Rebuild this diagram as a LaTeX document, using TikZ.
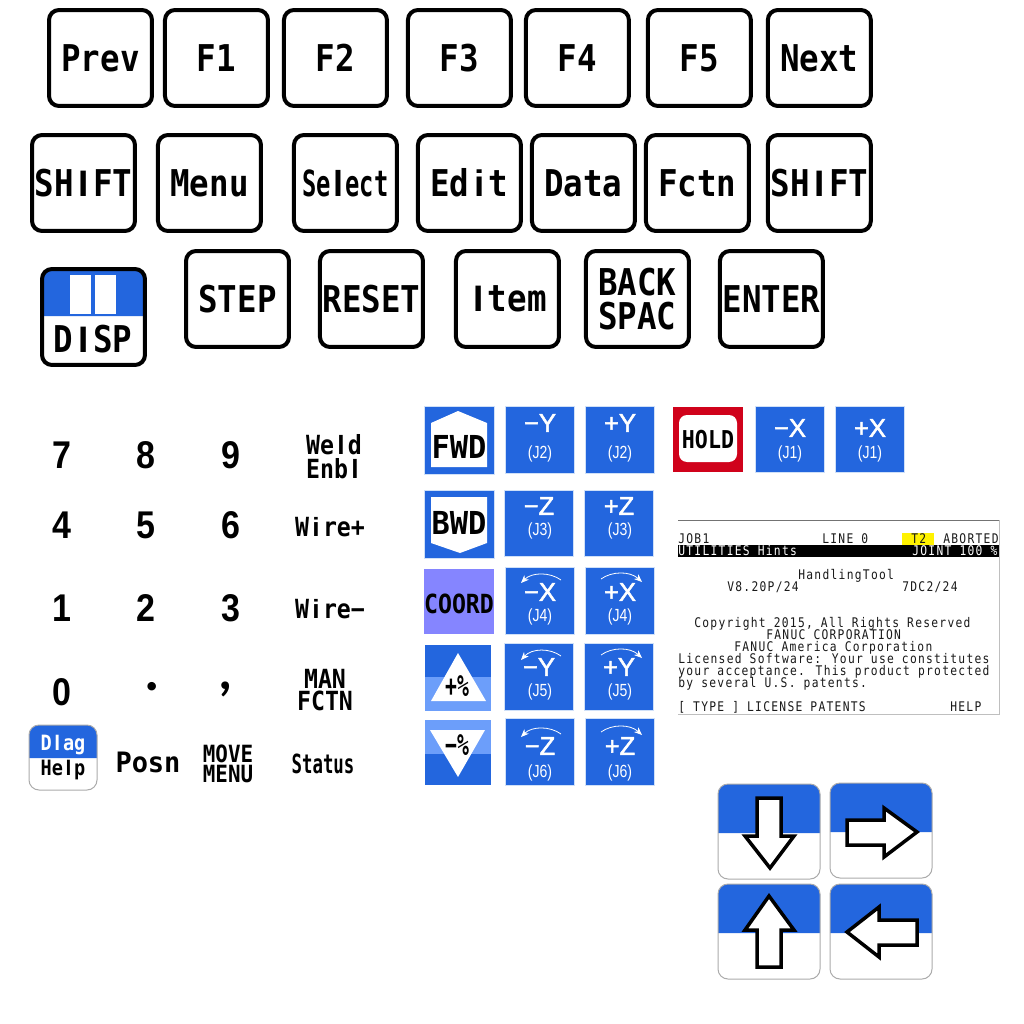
\documentclass[tikz,border=0pt]{standalone}
\usepackage{fontspec}
\usepackage{tikz}
\usetikzlibrary{arrows.meta,positioning}
\newfontfamily\keyfont[FakeStretch=.88]{DejaVu Sans Mono}
\newfontfamily\slimfont[FakeStretch=.66]{DejaVu Sans Mono}
\newfontfamily\wideface[FakeStretch=.96]{DejaVu Sans Mono}
\newfontfamily\digitfont[FakeStretch=.88]{Liberation Sans}
\newfontfamily\dotfont{Lato}
\newfontfamily\barfont{Liberation Sans}
\newfontfamily\jogfont[FakeBold=2]{Liberation Sans}
\newfontfamily\jointfont[FakeStretch=.8]{Liberation Sans}
\newfontfamily\screenfont[FakeStretch=.85,LetterSpace=9.6]{DejaVu Sans Mono}
\newcommand{\barglyph}[1]{\makebox[.53em]{\barfont\bfseries #1}}
\newcommand{\slimbar}[1]{\makebox[.4em]{\barfont\bfseries #1}}
\definecolor{keyblue}{HTML}{2366DE}
\definecolor{lightblue}{HTML}{6C9EFA}
\definecolor{paleblue}{HTML}{CFE0F8}
\definecolor{coordblue}{HTML}{8585FF}
\definecolor{holdred}{HTML}{D0021B}
\definecolor{edgegray}{HTML}{ABABAB}

\begin{document}
\begin{tikzpicture}[x=.02cm, y=-.02cm,
      node distance=.3cm,
      keycap/.style={draw=black, line width=.08cm, rounded corners=.2cm, fill=white,
        minimum width=2.06cm, minimum height=1.92cm, inner sep=0pt, align=center,
        font=\keyfont\bfseries\fontsize{21}{19.3}\selectfont},
      numkey/.style={inner sep=0pt, font=\digitfont\bfseries\fontsize{22}{23}\selectfont},
      smallkey/.style={inner sep=0pt, align=center,
        font=\keyfont\bfseries\fontsize{15}{13.6}\selectfont},
      halfkey/.style={draw=edgegray, line width=.02cm, rounded corners=.2cm},
      jogkey/.style={draw=paleblue, line width=.02cm, fill=keyblue,
        minimum width=1.38cm, minimum height=1.34cm, inner sep=0pt},
      jogsign/.style={inner sep=0pt, text=white, font=\jogfont\fontsize{14.5}{15}\selectfont},
      joglabel/.style={inner sep=0pt, text=white, font=\jointfont\fontsize{10}{11}\selectfont},
      tagtext/.style={inner sep=0pt, font=\wideface\bfseries\fontsize{18}{19}\selectfont},
      screentext/.style={inner sep=0pt, anchor=base west, text=black!90,
        font=\screenfont\fontsize{7.56}{8}\selectfont},
      turn/.style={draw=white, line width=.016cm, -{Stealth[length=1.6mm, width=1.3mm]}},
      keyarrow/.style={draw=black, line width=.07cm, fill=white, miter limit=10}
    ]
      \useasboundingbox (0,0) rectangle (1024,1024);
      \fill[white] (0,0) rectangle (1024,1024);

      \node[keycap] at (100.5,58) (prev) {Prev};
      \node[keycap, right=.18cm of prev] (fone) {F1};
      \node[keycap, right=.24cm of fone] (ftwo) {F2};
      \node[keycap, right=.34cm of ftwo] (fthree) {F3};
      \node[keycap, right=.22cm of fthree] (ffour) {F4};
      \node[keycap, right=.30cm of ffour] (ffive) {F5};
      \node[keycap, right=.26cm of ffive] (next) {Next};

      \node[keycap] at (83.5,183) (shl) {SH\barglyph{I}FT};
      \node[keycap, right=.38cm of shl] (menu) {Menu};
      \node[keycap, right=.58cm of menu, font=\slimfont\bfseries\fontsize{20.5}{21}\selectfont] (sel) {Se\slimbar{l}ect};
      \node[keycap, right=.34cm of sel] (edit) {Ed\barglyph{i}t};
      \node[keycap, right=.14cm of edit] (data) {Data};
      \node[keycap, right=.14cm of data] (fctn) {Fctn};
      \node[keycap, right=.30cm of fctn] (shr) {SH\barglyph{I}FT};

      \node[keycap] at (237.5,299) (stepkey) {STEP};
      \node[keycap, right=.54cm of stepkey] (reset) {RESET};
      \node[keycap, right=.58cm of reset] (item) {\barglyph{I}tem};
      \node[keycap, right=.46cm of item] (back) {BACK\\SPAC};
      \node[keycap, right=.54cm of back] (enter) {ENTER};

      \fill[keyblue] (41,316) [rounded corners=.2cm] -- (41,268) -- (145,268) [sharp corners] -- (145,316) -- cycle;
      \fill[white] (70,275) rectangle (91,314);
      \fill[white] (95,275) rectangle (116,314);
      \node[keycap, fill=none] at (93.5,317) (disp) {};
      \node[inner sep=0pt, font=\keyfont\bfseries\fontsize{21}{22}\selectfont] at (93,339) (disptext) {D\barglyph{I}SP};

      \node[numkey] at (62,455) (nseven) {7};
      \node[numkey] at (146,455) (neight) {8};
      \node[numkey] at (231,455) (nnine) {9};
      \node[smallkey] at (334,457) (weld) {We\barglyph{l}d\\Enb\barglyph{l}};
      \node[numkey] at (62,525) (nfour) {4};
      \node[numkey] at (146,525) (nfive) {5};
      \node[numkey] at (231,525) (nsix) {6};
      \node[smallkey] at (330,527) (wirep) {W\barglyph{i}re+};
      \node[numkey] at (62,608) (none) {1};
      \node[numkey] at (146,608) (ntwo) {2};
      \node[numkey] at (231,608) (nthree) {3};
      \node[smallkey] at (330,609) (wirem) {W\barglyph{i}re−};
      \node[numkey] at (62,692) (nzero) {0};
      \node[numkey, font=\dotfont\bfseries\fontsize{32}{33}\selectfont] at (152,687) (ndot) {.};
      \node[numkey, font=\dotfont\bfseries\fontsize{30}{31}\selectfont] at (226,689) (ncomma) {,};
      \node[smallkey, font=\keyfont\bfseries\fontsize{15}{12.5}\selectfont] at (325,690) (manf) {MAN\\FCTN};

      \fill[keyblue] (29,758) [rounded corners=.2cm] -- (29,725) -- (97,725) [sharp corners] -- (97,758) -- cycle;
      \draw[halfkey] (29,725) rectangle (97,790);
      \node[smallkey, text=white, font=\keyfont\bfseries\fontsize{12}{13}\selectfont] at (63,745) (dlag) {D\barglyph{l}ag};
      \node[smallkey, font=\keyfont\bfseries\fontsize{12}{13}\selectfont] at (63,770) (helpkey) {He\barglyph{l}p};
      \node[smallkey, font=\wideface\bfseries\fontsize{16}{17}\selectfont] at (148,762) (posn) {Posn};
      \node[smallkey, font=\keyfont\bfseries\fontsize{13.5}{11.4}\selectfont] at (228,764) (movem) {MOVE\\MENU};
      \node[smallkey, font=\slimfont\bfseries\fontsize{15}{16}\selectfont] at (323,764) (status) {Status};

      \fill[keyblue, draw=paleblue, line width=.02cm] (424,406) rectangle (494,474);
      \fill[white] (431,467) -- (431,423) -- (458,411) -- (487,423) -- (487,467) -- cycle;
      \node[tagtext] at (459,447) (fwd) {FWD};
      \fill[keyblue, draw=paleblue, line width=.02cm] (424,490) rectangle (494,558);
      \fill[white] (431,497) -- (487,497) -- (487,543) -- (460,553) -- (431,543) -- cycle;
      \node[tagtext] at (459,523) (bwd) {BWD};
      \node[fill=coordblue, minimum width=1.40cm, minimum height=1.30cm, inner sep=0pt] at (459,601.5) (coordbox) {};
      \node[tagtext, font=\keyfont\bfseries\fontsize{15}{16}\selectfont] at (459,604) (coord) {COORD};

      \fill[keyblue] (425,645) rectangle (491,677);
      \fill[lightblue] (425,677) rectangle (491,711);
      \fill[white] (458,653) -- (486,701) -- (431,701) -- cycle;
      \node[tagtext, font=\slimfont\bfseries\fontsize{17}{18}\selectfont] at (457,686) (pluspc) {+\%};
      \fill[lightblue] (425,720) rectangle (491,754);
      \fill[keyblue] (425,754) rectangle (491,785);
      \fill[white] (430,730) -- (485,730) -- (458,777) -- cycle;
      \node[tagtext, font=\slimfont\bfseries\fontsize{17}{18}\selectfont] at (457,745) (minuspc) {−\%};

      \node[jogkey] at (540,440) (mytwo) {};
      \node[jogsign] at (540,423) (mytwos) {−Y};
      \node[joglabel] at (540,454) (mytwol) {(J2)};
      \node[jogkey] at (620,440) (pytwo) {};
      \node[jogsign] at (620,423) (pytwos) {+Y};
      \node[joglabel] at (620,454) (pytwol) {(J2)};
      \node[jogkey] at (539,523.5) (mzthree) {};
      \node[jogsign] at (539,506) (mzthrees) {−Z};
      \node[joglabel] at (540,531) (mzthreel) {(J3)};
      \node[jogkey] at (619,523.5) (pzthree) {};
      \node[jogsign] at (619,506) (pzthrees) {+Z};
      \node[joglabel] at (620,531) (pzthreel) {(J3)};
      \node[jogkey] at (540,601) (mxfour) {};
      \node[jogsign] at (540,592) (mxfours) {−X};
      \node[joglabel] at (540,617) (mxfourl) {(J4)};
      \draw[turn] (561,580) .. controls (550,572) and (532,572) .. (521,583);
      \node[jogkey] at (620,601) (pxfour) {};
      \node[jogsign] at (620,592) (pxfours) {+X};
      \node[joglabel] at (620,617) (pxfourl) {(J4)};
      \draw[turn] (601,579) .. controls (612,571) and (630,571) .. (642,582);
      \node[jogkey] at (539,677) (myfive) {};
      \node[jogsign] at (539,667) (myfives) {−Y};
      \node[joglabel] at (540,692) (myfivel) {(J5)};
      \draw[turn] (561,656) .. controls (550,648) and (532,648) .. (521,660);
      \node[jogkey] at (619,677) (pyfive) {};
      \node[jogsign] at (619,667) (pyfives) {+Y};
      \node[joglabel] at (620,692) (pyfivel) {(J5)};
      \draw[turn] (601,655) .. controls (612,647) and (630,647) .. (642,658);
      \node[jogkey] at (540,752) (mzsix) {};
      \node[jogsign] at (540,746) (mzsixs) {−Z};
      \node[joglabel] at (540,773) (mzsixl) {(J6)};
      \draw[turn] (561,734) .. controls (550,726) and (532,726) .. (521,737);
      \node[jogkey] at (620,752) (pzsix) {};
      \node[jogsign] at (620,746) (pzsixs) {+Z};
      \node[joglabel] at (620,773) (pzsixl) {(J6)};
      \draw[turn] (601,732) .. controls (612,724) and (630,724) .. (642,735);

      \node[fill=holdred, minimum width=1.40cm, minimum height=1.30cm, inner sep=0pt] at (708,439.5) (holdbox) {};
      \node[fill=white, rounded corners=.16cm, minimum width=1.16cm, minimum height=.94cm, inner sep=0pt] at (708,438.5) (holdcap) {};
      \node[tagtext, font=\keyfont\bfseries\fontsize{14}{15}\selectfont] at (708,440) (hold) {HOLD};
      \node[jogkey] at (790,439.5) (mxone) {};
      \node[jogsign] at (790,428) (mxones) {−X};
      \node[joglabel] at (790,454) (mxonel) {(J1)};
      \node[jogkey] at (870,439.5) (pxone) {};
      \node[jogsign] at (870,428) (pxones) {+X};
      \node[joglabel] at (870,454) (pxonel) {(J1)};

      \fill[yellow] (902,533) rectangle (934,545);
      \fill[black] (678,545) rectangle (999,557);
      \draw[black!55, line width=.02cm] (678,520) -- (999,520);
      \draw[black!25, line width=.02cm] (999,520) -- (999,714) -- (678,714);
      \node[screentext] at (678,543) (sjob) {JOB1};
      \node[screentext] at (822,543) (sline) {LINE 0};
      \node[screentext] at (911,543) (stwo) {T2};
      \node[screentext] at (943,543) (sabort) {ABORTED};
      \node[screentext, text=white] at (678,555) (sutil) {UTILITIES Hints};
      \node[screentext, text=white] at (912,555) (sjoint) {JOINT 100 \%};
      \node[screentext] at (798,579) (shandling) {HandlingTool};
      \node[screentext] at (727,591) (sver) {V8.20P/24};
      \node[screentext] at (902,591) (sdc) {7DC2/24};
      \node[screentext] at (694,627) (scopy) {Copyright 2015, All Rights Reserved};
      \node[screentext] at (766,639) (scorp) {FANUC CORPORATION};
      \node[screentext] at (734,651) (samer) {FANUC America Corporation};
      \node[screentext] at (678,663) (slic) {Licensed Software: Your use constitutes};
      \node[screentext] at (678,675) (sacc) {your acceptance. This product protected};
      \node[screentext] at (678,687) (spat) {by several U.S. patents.};
      \node[screentext] at (678,711) (stype) {[ TYPE ] LICENSE PATENTS};
      \node[screentext] at (950,711) (shelp) {HELP};

      \fill[keyblue] (718,833) [rounded corners=.2cm] -- (718,784) -- (820,784) [sharp corners] -- (820,833) -- cycle;
      \draw[halfkey] (718,784) rectangle (820,879);
      \draw[keyarrow] (757,798) -- (781,798) -- (781,836) -- (794,836) -- (770,868) -- (745,836) -- (757,836) -- cycle;
      \fill[keyblue] (830,832) [rounded corners=.2cm] -- (830,783) -- (932,783) [sharp corners] -- (932,832) -- cycle;
      \draw[halfkey] (830,783) rectangle (932,878);
      \draw[keyarrow] (847,820) -- (884,820) -- (884,808) -- (917,832) -- (884,857) -- (884,845) -- (847,845) -- cycle;
      \fill[keyblue] (718,933) [rounded corners=.2cm] -- (718,884) -- (820,884) [sharp corners] -- (820,933) -- cycle;
      \draw[halfkey] (718,884) rectangle (820,979);
      \draw[keyarrow] (769,896) -- (794,930) -- (781,930) -- (781,967) -- (757,967) -- (757,930) -- (745,930) -- cycle;
      \fill[keyblue] (830,933) [rounded corners=.2cm] -- (830,884) -- (932,884) [sharp corners] -- (932,933) -- cycle;
      \draw[halfkey] (830,884) rectangle (932,979);
      \draw[keyarrow] (847,932) -- (879,907) -- (879,920) -- (917,920) -- (917,945) -- (879,945) -- (879,957) -- cycle;
    \end{tikzpicture}
\end{document}
